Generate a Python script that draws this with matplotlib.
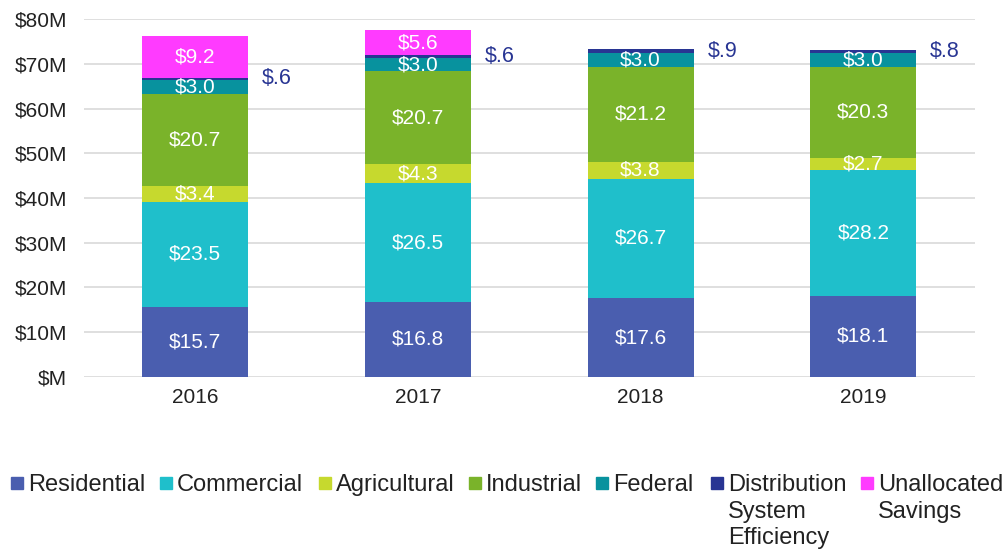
import matplotlib
matplotlib.use("Agg")
import matplotlib.pyplot as plt
from matplotlib.patches import Rectangle
import numpy as np

plt.rcParams['font.family'] = ['Liberation Sans', 'DejaVu Sans']

years = ["2016", "2017", "2018", "2019"]
series_names = ["Residential", "Commercial", "Agricultural", "Industrial", "Federal",
                "Distribution\nSystem\nEfficiency", "Unallocated\nSavings"]
residential = [15.7, 16.8, 17.6, 18.1]
commercial = [23.5, 26.5, 26.7, 28.2]
agricultural = [3.4, 4.3, 3.8, 2.7]
industrial = [20.7, 20.7, 21.2, 20.3]
federal = [3.0, 3.0, 3.0, 3.0]
distribution = [0.6, 0.6, 0.9, 0.8]
unallocated = [9.2, 5.6, 0.0, 0.0]
y_ticks = [0, 10, 20, 30, 40, 50, 60, 70, 80]
y_tick_labels = ["$M", "$10M", "$20M", "$30M", "$40M", "$50M", "$60M", "$70M", "$80M"]

colors = ["#4A5EAF", "#1FBFCB", "#C6D92E", "#7AB32A", "#08929E", "#283593", "#FF3BFF"]
series = [residential, commercial, agricultural, industrial, federal, distribution, unallocated]

W, H = 1008, 554
fig = plt.figure(figsize=(W / 100, H / 100), dpi=100)
ax = fig.add_axes([0.083, 0.3195, 0.884, 0.6462])

x = np.arange(len(years))
width = 0.476
bottom = np.zeros(len(years))
for i, (vals, col, name) in enumerate(zip(series, colors, series_names)):
    vals = np.array(vals)
    ax.bar(x, vals, width, bottom=bottom, color=col, label=name, zorder=3)
    for j, v in enumerate(vals):
        if v <= 0:
            continue
        cy = bottom[j] + v / 2
        if i == 5:
            ax.annotate(f"${v:.1f}".replace("$0.", "$."), (x[j] + width / 2, cy),
                        xytext=(10, 0), textcoords="offset points",
                        ha="left", va="center", color="#283593", fontsize=15.5, zorder=4)
        else:
            ax.text(x[j], cy, f"${v:.1f}", ha="center", va="center",
                    color="white", fontsize=15, zorder=4)
    bottom += vals

ax.set_xlim(-0.5, 3.5)
ax.set_ylim(0, 80)
ax.set_yticks(y_ticks)
ax.set_yticklabels(y_tick_labels)
ax.set_xticks(x)
ax.set_xticklabels(years)
ax.tick_params(axis='both', length=0, labelsize=15, colors="#222222")
ax.tick_params(axis='y', pad=12)
ax.tick_params(axis='x', pad=8)
ax.yaxis.grid(True, color="#D9D9D9", linewidth=1.2, zorder=0)
for s in ax.spines.values():
    s.set_visible(False)

# manual legend at the bottom (handles top-aligned with first text line)
marker_px = [11, 160, 319, 469, 596, 711, 861]
for mx, col, name in zip(marker_px, colors, series_names):
    fig.patches.append(Rectangle((mx / W, 1 - 489 / H), 12 / W, 12 / H,
                                 transform=fig.transFigure, color=col, figure=fig))
    fig.text((mx + 17) / W, 1 - 474 / H, name, ha="left", va="top",
             fontsize=17, color="#222222", linespacing=1.27)

fig.savefig("out.png", dpi=100)
